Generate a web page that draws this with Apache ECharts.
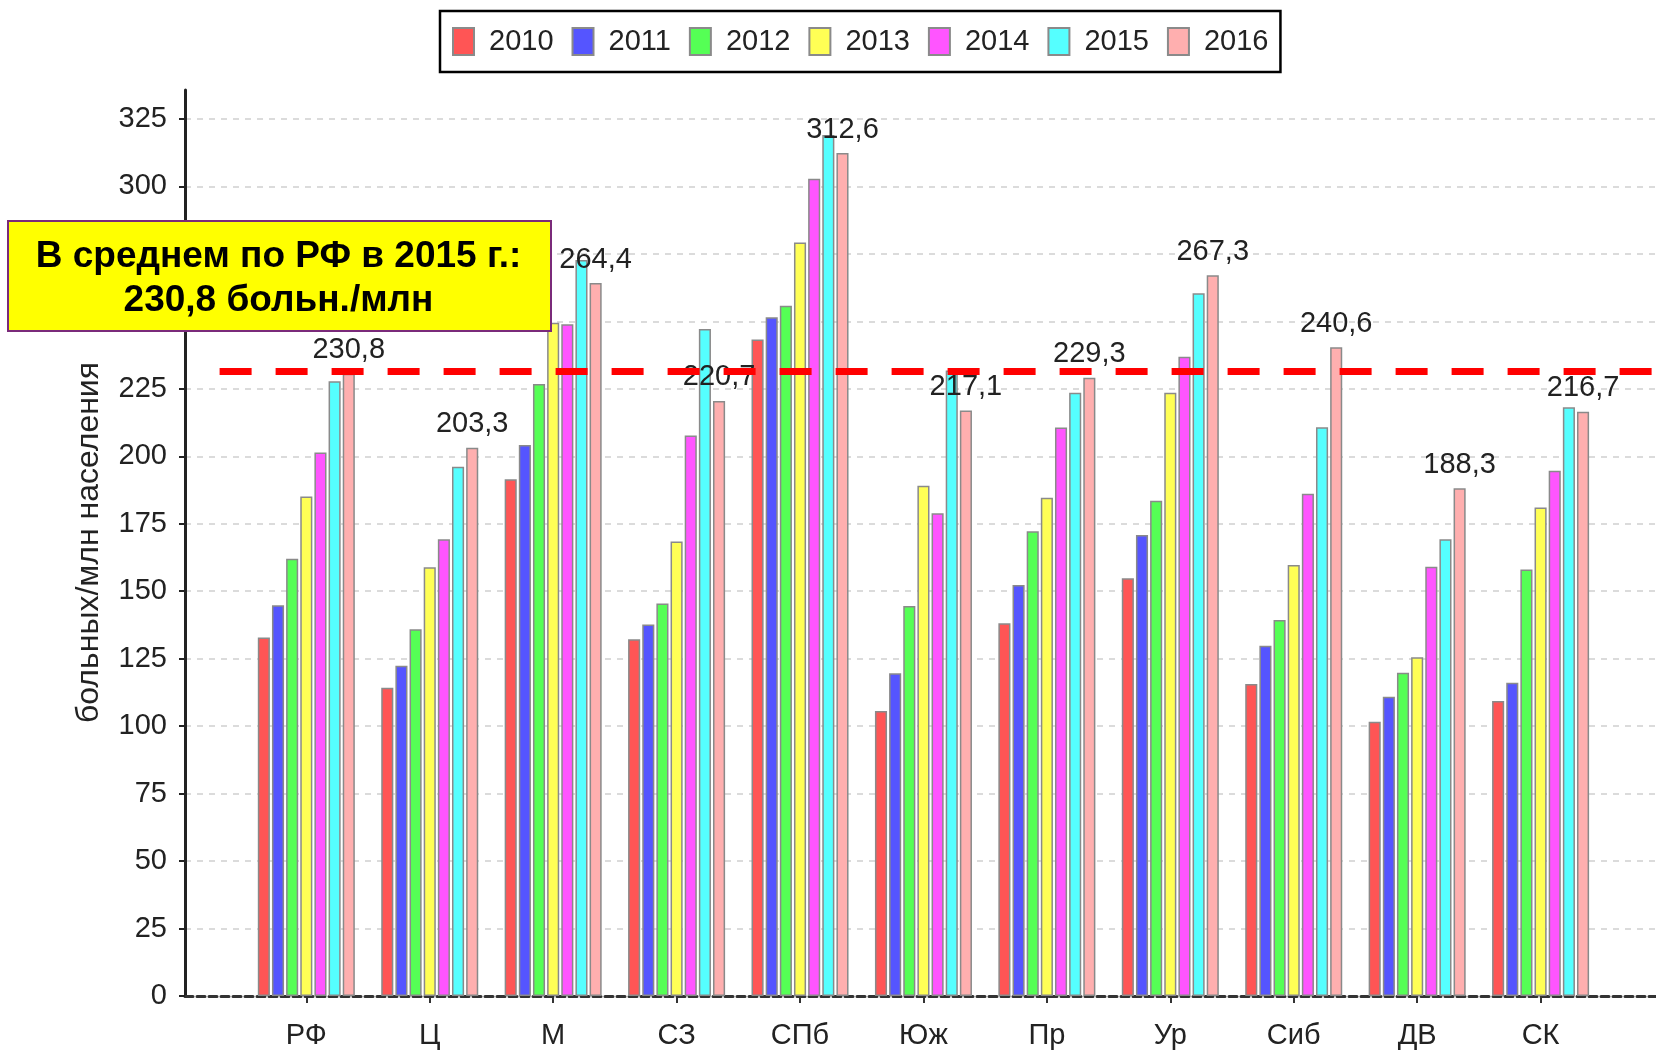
<!DOCTYPE html>
<html>
<head>
<meta charset="utf-8">
<script src="https://cdn.jsdelivr.net/npm/echarts@6/dist/echarts.min.js"></script>
<style>
  html, body { margin: 0; padding: 0; background: #fff; }
  #main { width: 1656px; height: 1051px; }
</style>
</head>
<body>
<div id="main"></div>
<script>
// данные
const regions = ["РФ", "Ц", "М", "СЗ", "СПб", "Юж", "Пр", "Ур", "Сиб", "ДВ", "СК"];
const years = ["2010", "2011", "2012", "2013", "2014", "2015", "2016"];
const v2010 = [133.0, 114.3, 191.6, 132.3, 243.5, 105.7, 138.2, 154.9, 115.7, 101.7, 109.4];
const v2011 = [144.9, 122.5, 204.3, 137.8, 251.7, 119.7, 152.4, 171.0, 129.9, 111.0, 116.2];
const v2012 = [162.2, 136.0, 227.0, 145.6, 256.0, 144.6, 172.4, 183.7, 139.4, 119.9, 158.2];
const v2013 = [185.2, 159.0, 249.7, 168.6, 279.4, 189.2, 184.8, 223.7, 159.8, 125.6, 181.2];
const v2014 = [201.6, 169.4, 249.1, 207.9, 303.1, 179.0, 210.8, 237.1, 186.3, 159.2, 194.8];
const v2015 = [228.0, 196.3, 273.0, 247.4, 319.3, 232.0, 223.7, 260.6, 210.9, 169.4, 218.3];
const v2016 = [230.8, 203.3, 264.4, 220.7, 312.6, 217.1, 229.3, 267.3, 240.6, 188.3, 216.7];
const avgLine = 231.7;
const yMax = 325;
const yStep = 25;

const values = [v2010, v2011, v2012, v2013, v2014, v2015, v2016];
const colors = ["#ff5555", "#5555ff", "#55ff55", "#ffff55", "#ff55ff", "#55ffff", "#ffafaf"];
const font = "Liberation Sans, Arial, sans-serif";

const myChart = echarts.init(document.getElementById("main"));

const barSeries = years.map(function (y, i) {
  const s = {
    type: "bar",
    name: y,
    xAxisIndex: 1,
    yAxisIndex: 1,
    data: values[i],
    barGap: "17%",
    barCategoryGap: "21.4%",
    itemStyle: { color: colors[i], borderColor: "#8a8a8a", borderWidth: 1.5 },
    z: 3,
  };
  if (i === years.length - 1) {
    s.label = {
      show: true,
      position: "top",
      distance: 9,
      color: "#222",
      fontFamily: font,
      fontSize: 29,
      formatter: function (p) {
        return p.value.toFixed(1).replace(".", ",");
      },
    };
  }
  return s;
});

const option = {
  animation: false,
  backgroundColor: "#fff",
  legend: {
    data: years,
    icon: "rect",
    left: 440,
    top: 11,
    padding: [16, 12, 16, 12],
    itemWidth: 21,
    itemHeight: 27,
    itemGap: 18,
    borderColor: "#000",
    borderWidth: 2.5,
    textStyle: {
      fontFamily: font,
      fontSize: 29,
      color: "#222",
      padding: [0, 0, 0, 10],
    },
  },
  grid: [
    // сетка и подписи оси Y
    { left: 185, right: 0, top: 119, bottom: 55 },
    // столбцы
    { left: 244.6, right: 53.7, top: 90, bottom: 55 },
    // средняя линия
    { left: 219.6, right: 0, top: 119, bottom: 55 },
  ],
  xAxis: [
    {
      gridIndex: 0,
      type: "value",
      min: 0,
      max: 1,
      axisLine: { show: true, lineStyle: { color: "#333", width: 3, type: [8, 4] } },
      axisTick: { show: false },
      axisLabel: { show: false },
      splitLine: { show: false },
    },
    {
      gridIndex: 1,
      type: "category",
      data: regions,
      axisLine: { show: false },
      axisTick: { show: true, alignWithLabel: true, length: 7, lineStyle: { color: "#333", width: 2 } },
      axisLabel: { margin: 25, color: "#222", fontFamily: font, fontSize: 29 },
    },
    {
      gridIndex: 2,
      type: "value",
      min: 0,
      max: 1,
      show: false,
    },
  ],
  yAxis: [
    {
      gridIndex: 0,
      type: "value",
      min: 0,
      max: yMax,
      interval: yStep,
      name: "больных/млн населения",
      nameLocation: "middle",
      nameGap: 80,
      nameTextStyle: { fontFamily: font, fontSize: 32, color: "#222", padding: [0, 0, 0, 30] },
      axisLine: { show: false },
      axisTick: { show: true, length: 6, lineStyle: { color: "#222", width: 2 } },
      axisLabel: { margin: 18, color: "#222", fontFamily: font, fontSize: 29, padding: [5, 0, 0, 0] },
      splitLine: { show: true, lineStyle: { color: "#cfcfcf", width: 1.5, type: [6, 6] } },
    },
    {
      gridIndex: 1,
      type: "value",
      min: 0,
      max: 336,
      offset: 59.6,
      axisLine: { show: true, lineStyle: { color: "#222", width: 3 } },
      axisTick: { show: false },
      axisLabel: { show: false },
      splitLine: { show: false },
    },
    {
      gridIndex: 2,
      type: "value",
      min: 0,
      max: yMax,
      show: false,
    },
  ],
  series: barSeries.concat([
    {
      type: "line",
      name: "avg",
      xAxisIndex: 2,
      yAxisIndex: 2,
      data: [],
      z: 10,
      markLine: {
        silent: true,
        symbol: "none",
        label: { show: false },
        lineStyle: { color: "#ff0000", width: 7, type: [32, 24] },
        data: [{ yAxis: avgLine }],
        z: 10,
      },
    },
  ]),
  graphic: [
    {
      type: "rect",
      left: 7,
      top: 220,
      z: 100,
      shape: { width: 543, height: 110 },
      style: { fill: "#ffff00", stroke: "#7a2a7a", lineWidth: 2 },
    },
    {
      type: "text",
      x: 278.5,
      y: 279,
      z: 101,
      style: {
        text: "В среднем по РФ в 2015 г.:\n230,8 больн./млн",
        fill: "#000",
        font: "bold 37px " + font,
        align: "center",
        verticalAlign: "middle",
        lineHeight: 44,
      },
    },
  ],
};

myChart.setOption(option);
</script>
</body>
</html>
